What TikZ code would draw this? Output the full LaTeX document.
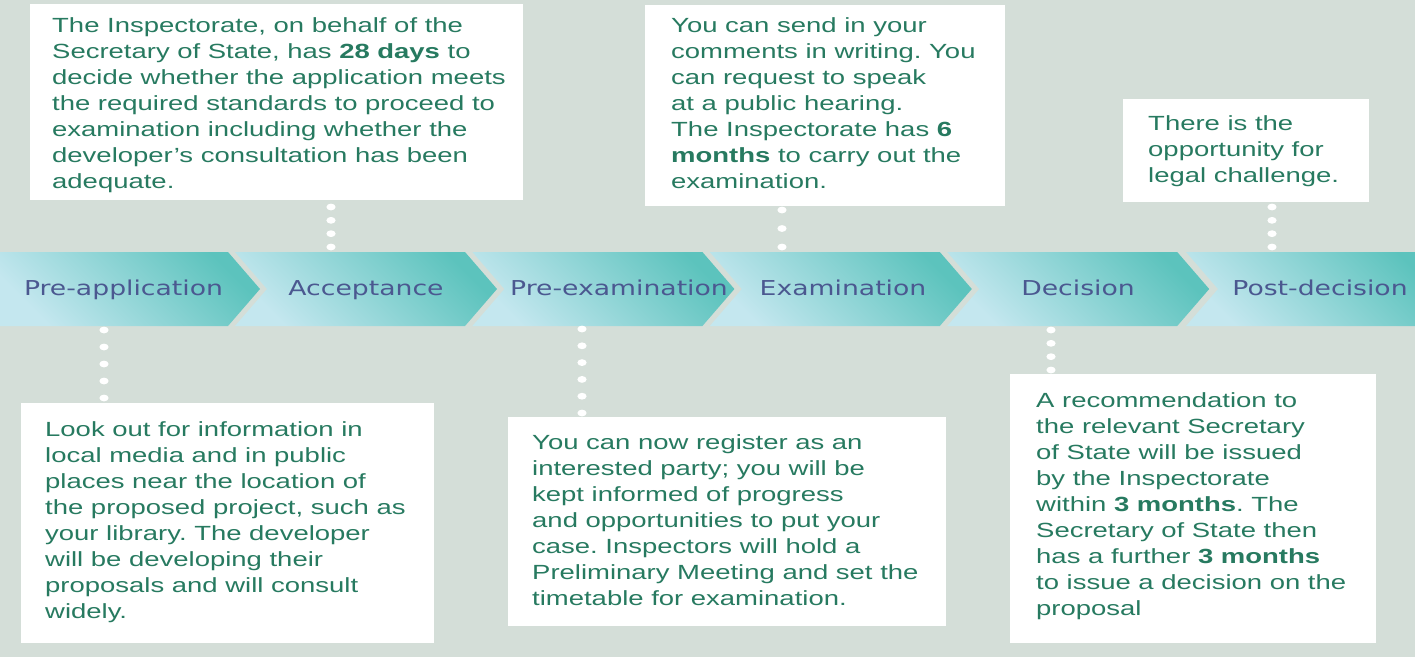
\documentclass[tikz,border=0pt]{standalone}
\usepackage{fontspec}
\usetikzlibrary{calc}
\newfontfamily\boxfont[FakeStretch=1.34]{Liberation Sans}
\newfontfamily\chevfont[FakeStretch=1.3]{DejaVu Sans}
\definecolor{bg}{HTML}{D4DED8}
\definecolor{txtgreen}{HTML}{277A60}
\definecolor{chevtxt}{HTML}{4B5890}
\definecolor{chevlight}{HTML}{C4E7EF}
\definecolor{chevdark}{HTML}{5CC3BD}
\frenchspacing
\tikzset{
 infobox/.style={fill=white, inner sep=0pt, anchor=north west},
 infotext/.style={inner sep=0pt, anchor=north west, align=left, text=txtgreen,
   font=\boxfont\fontsize{20.5}{26}\selectfont},
 chevron/.style={left color=chevlight, right color=chevdark, shading angle=135},
 chevlabel/.style={text=chevtxt, font=\chevfont\fontsize{20.5}{24}\selectfont, inner sep=0pt, anchor=base},
 dotfill/.style={fill=white},
}
\newcommand\dotrow[3]{\foreach \k in {0,...,#3}{\fill[dotfill] ($(#1)!\k/#3!(#2)$) ellipse[x radius=4.6, y radius=3.4];}}
\begin{document}
\begin{tikzpicture}[x=1pt,y=-1pt]
\useasboundingbox (0,0) rectangle (1415,657);
\fill[bg] (0,0) rectangle (1415,657);

% chevrons
\shade[chevron] (0,252) -- (228,252) -- (260,289) -- (228,326) -- (0,326) -- cycle;
\foreach \L in {235,472.4,709.8,947.2,1186}{
  \shade[chevron] (\L,252) -- ({\L+230},252) -- ({\L+262},289) -- ({\L+230},326) -- (\L,326) -- ({\L+32},289) -- cycle;
}
\node[chevlabel] (c1) at (123.5,295) {Pre-application};
\node[chevlabel] (c2) at (366,295) {Acceptance};
\node[chevlabel] (c3) at (619,295) {Pre-examination};
\node[chevlabel] (c4) at (843,295) {Examination};
\node[chevlabel] (c5) at (1078,295) {Decision};
\node[chevlabel] (c6) at (1320,295) {Post-decision};

% boxes
\node[infobox, minimum width=493, minimum height=196] (bA) at (30,4) {};
\node[infobox, minimum width=360, minimum height=201] (bB) at (645,5) {};
\node[infobox, minimum width=246, minimum height=103] (bC) at (1123,99) {};
\node[infobox, minimum width=413, minimum height=240] (bD) at (21,403) {};
\node[infobox, minimum width=438, minimum height=209] (bE) at (508,417) {};
\node[infobox, minimum width=366, minimum height=269] (bF) at (1010,374) {};

\node[infotext] (tA) at ([xshift=22, yshift=-13]bA.north west) {The Inspectorate, on behalf of the\\
Secretary of State, has \textbf{28 days} to\\
decide whether the application meets\\
the required standards to proceed to\\
examination including whether the\\
developer’s consultation has been\\
adequate.};
\node[infotext] (tB) at ([xshift=26, yshift=-12]bB.north west) {You can send in your\\
comments in writing. You\\
can request to speak\\
at a public hearing.\\
The Inspectorate has \textbf{6}\\
\textbf{months} to carry out the\\
examination.};
\node[infotext] (tC) at ([xshift=25, yshift=-16]bC.north west) {There is the\\
opportunity for\\
legal challenge.};
\node[infotext] (tD) at ([xshift=24, yshift=-18]bD.north west) {Look out for information in\\
local media and in public\\
places near the location of\\
the proposed project, such as\\
your library. The developer\\
will be developing their\\
proposals and will consult\\
widely.};
\node[infotext] (tE) at ([xshift=24, yshift=-17]bE.north west) {You can now register as an\\
interested party; you will be\\
kept informed of progress\\
and opportunities to put your\\
case. Inspectors will hold a\\
Preliminary Meeting and set the\\
timetable for examination.};
\node[infotext] (tF) at ([xshift=26, yshift=-18]bF.north west) {A recommendation to\\
the relevant Secretary\\
of State will be issued\\
by the Inspectorate\\
within \textbf{3 months}. The\\
Secretary of State then\\
has a further \textbf{3 months}\\
to issue a decision on the\\
proposal};

% dotted connectors
\coordinate (dA1) at (331,207); \coordinate (dA2) at (331,247);
\coordinate (dB1) at (782,210); \coordinate (dB2) at (782,247);
\coordinate (dC1) at (1272,207); \coordinate (dC2) at (1272,247);
\coordinate (dD1) at (104,330); \coordinate (dD2) at (104,398);
\coordinate (dE1) at (582,329); \coordinate (dE2) at (582,413);
\coordinate (dF1) at (1051,330); \coordinate (dF2) at (1051,370);
\dotrow{dA1}{dA2}{3}
\dotrow{dB1}{dB2}{2}
\dotrow{dC1}{dC2}{3}
\dotrow{dD1}{dD2}{4}
\dotrow{dE1}{dE2}{5}
\dotrow{dF1}{dF2}{3}
\end{tikzpicture}
\end{document}
